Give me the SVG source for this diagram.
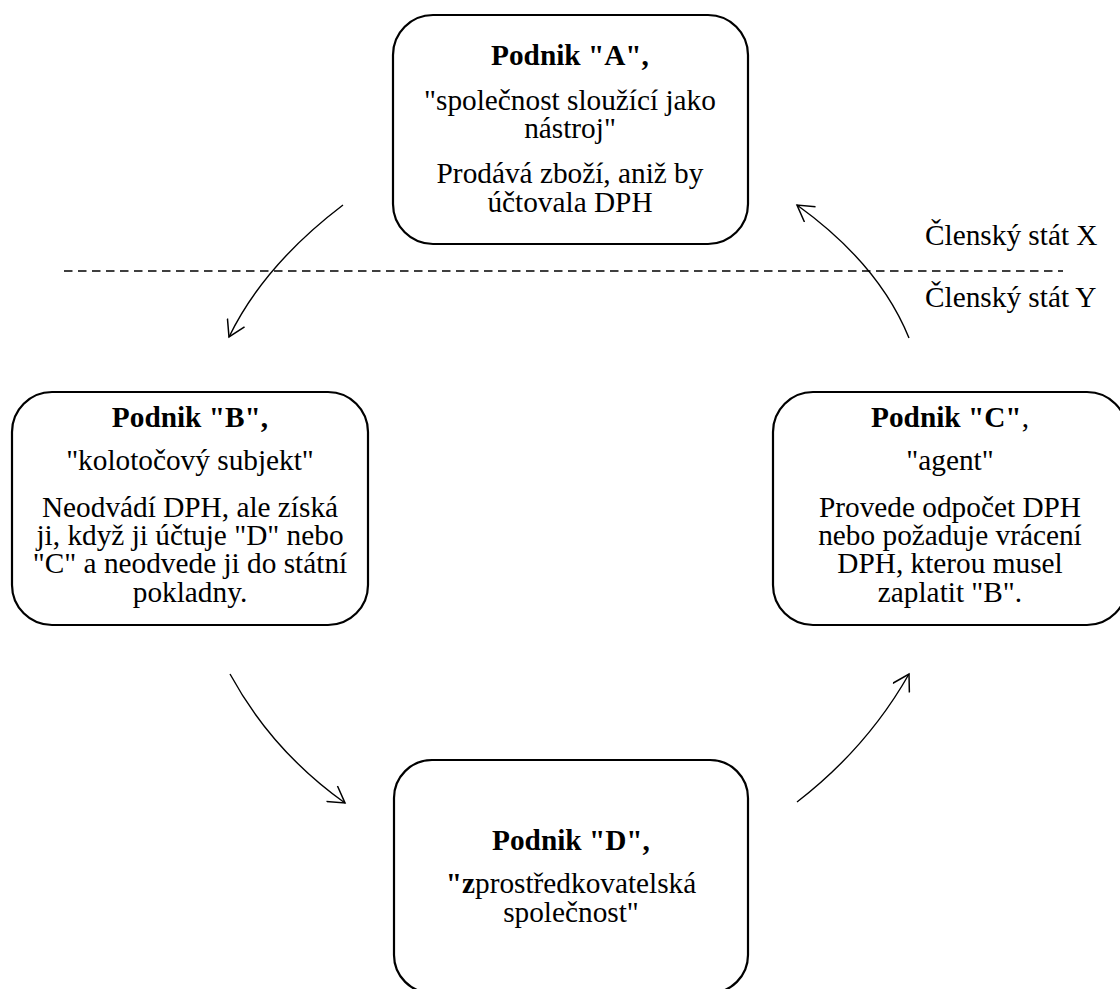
<svg xmlns="http://www.w3.org/2000/svg" width="1120" height="989" viewBox="0 0 1120 989">
<style>
.box{fill:#fff;stroke:#000;stroke-width:2.2}
.arc{fill:none;stroke:#000;stroke-width:1.4}
.dash{stroke:#000;stroke-width:1.5;stroke-dasharray:8.5 5.5;fill:none}
</style>
<defs>
<marker id="ah" viewBox="0 0 20 20" refX="18" refY="10" markerWidth="20" markerHeight="20" markerUnits="userSpaceOnUse" orient="auto">
<path d="M2,0.5 L18,10 L2,19.5" fill="none" stroke="#000" stroke-width="1.5"/>
</marker>
</defs>
<rect width="1120" height="989" fill="#fff"/>
<g font-family="Liberation Serif, Times New Roman, DejaVu Serif, serif" font-size="29.3" fill="#000">
<g id="border">
<line class="dash" x1="64" y1="271" x2="1063" y2="271"/>
<text x="925" y="245">Členský stát X</text>
<text x="925" y="307">Členský stát Y</text>
</g>
<g id="nodeA" text-anchor="middle">
<rect class="box" x="393" y="15" width="355" height="229" rx="40" ry="40"/>
<text x="570" y="65" font-weight="bold">Podnik "A",</text>
<text x="570" y="110">"společnost sloužící jako</text>
<text x="570" y="138">nástroj"</text>
<text x="570" y="183">Prodává zboží, aniž by</text>
<text x="570" y="212">účtovala DPH</text>
</g>
<g id="nodeB" text-anchor="middle">
<rect class="box" x="12" y="392" width="356" height="233" rx="40" ry="40"/>
<text x="190" y="427" font-weight="bold">Podnik "B",</text>
<text x="190" y="470">"kolotočový subjekt"</text>
<text x="190" y="517">Neodvádí DPH, ale získá</text>
<text x="190" y="545">ji, když ji účtuje "D" nebo</text>
<text x="190" y="573">"C" a neodvede ji do státní</text>
<text x="190" y="602">pokladny.</text>
</g>
<g id="nodeC" text-anchor="middle">
<rect class="box" x="773" y="392" width="354" height="233" rx="40" ry="40"/>
<text x="950" y="427"><tspan font-weight="bold">Podnik "C"</tspan>,</text>
<text x="950" y="470">"agent"</text>
<text x="950" y="517">Provede odpočet DPH</text>
<text x="950" y="545">nebo požaduje vrácení</text>
<text x="950" y="573">DPH, kterou musel</text>
<text x="950" y="602">zaplatit "B".</text>
</g>
<g id="nodeD" text-anchor="middle">
<rect class="box" x="394" y="760" width="354" height="233" rx="38" ry="38"/>
<text x="571" y="850" font-weight="bold">Podnik "D",</text>
<text x="571" y="893"><tspan font-weight="bold">"z</tspan>prostředkovatelská</text>
<text x="571" y="922">společnost"</text>
</g>
</g>
<g id="connectors">
<path class="arc" d="M343,205 Q264,265 229,337" marker-end="url(#ah)"/>
<path class="arc" d="M230,674 Q272,751 345,803" marker-end="url(#ah)"/>
<path class="arc" d="M797,802 Q867,748 909,674" marker-end="url(#ah)"/>
<path class="arc" d="M909,338 Q879,264 797,205" marker-end="url(#ah)"/>
</g>
</svg>
